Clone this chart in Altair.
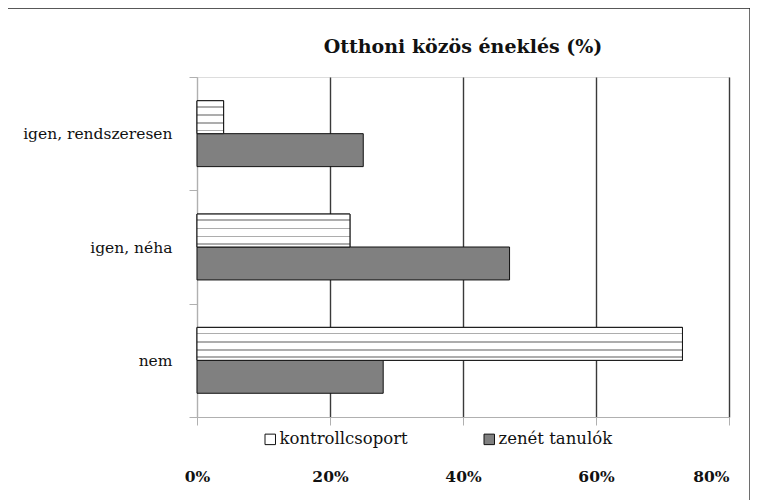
import altair as alt
import pandas as pd

categories = ["igen, rendszeresen", "igen, néha", "nem"]
series = ["kontrollcsoport", "zenét tanulók"]
kontroll = [4, 23, 73]
zenet = [25, 47, 28]
x_ticks = [0, 20, 40, 60, 80]

rows = []
for c, k, z in zip(categories, kontroll, zenet):
    rows.append({"cat": c, "series": series[0], "value": k})
    rows.append({"cat": c, "series": series[1], "value": z})
df = pd.DataFrame(rows)

FONT = "DejaVu Serif"

# horizontal dashed-stripe look for the control group
stripe = "#adadad"
stops = []
for a, b in [(0.16, 0.21), (0.41, 0.46), (0.66, 0.71), (0.88, 0.93)]:
    stops += [
        alt.GradientStop(offset=a, color="white"),
        alt.GradientStop(offset=a, color=stripe),
        alt.GradientStop(offset=b, color=stripe),
        alt.GradientStop(offset=b, color="white"),
    ]
stops = [alt.GradientStop(offset=0, color="white")] + stops + [alt.GradientStop(offset=1, color="white")]
dash_fill = alt.LinearGradient(gradient="linear", x1=0, y1=0, x2=0, y2=1, stops=stops)

y_enc = alt.Y(
    "cat:N",
    sort=categories,
    scale=alt.Scale(paddingInner=0, paddingOuter=0),
    axis=alt.Axis(
        title=None,
        domainColor="#b0b0b0",
        tickColor="#b0b0b0",
        tickSize=8,
        tickBand="extent",
        labelFont=FONT,
        labelFontSize=15.5,
        labelColor="#111",
        labelPadding=17,
    ),
)
yoff_enc = alt.YOffset(
    "series:N",
    sort=series,
    scale=alt.Scale(domain=series, paddingOuter=0.72, paddingInner=0),
)
x_enc = alt.X(
    "value:Q",
    scale=alt.Scale(domain=[0, 80]),
    axis=alt.Axis(
        title=None,
        values=x_ticks,
        labelExpr="datum.value + '%'",
        labelFlush=False,
        labelAlign={"condition": {"test": "datum.value === 80", "value": "right"}, "value": "center"},
        grid=True,
        gridColor={"condition": {"test": "datum.value === 0", "value": "#b0b0b0"}, "value": "#3a3a3a"},
        gridWidth=1.4,
        domainColor="#b0b0b0",
        tickColor="#b0b0b0",
        tickSize=8,
        labelFont=FONT,
        labelFontSize=15.5,
        labelFontWeight="bold",
        labelColor="#111",
        labelPadding=44,
    ),
)

bars = alt.Chart(df).mark_bar(stroke="#111", strokeWidth=1).encode(
    x=x_enc,
    y=y_enc,
    yOffset=yoff_enc,
    fill=alt.Fill(
        "series:N",
        sort=series,
        scale=alt.Scale(domain=series, range=["white", "#808080"]),
        legend=alt.Legend(
            title=None,
            orient="none",
            direction="horizontal",
            legendX=65,
            legendY=354,
            symbolType="square",
            symbolSize=110,
            symbolStrokeColor="#111",
            symbolStrokeWidth=1,
            labelFont=FONT,
            labelFontSize=16.5,
            labelColor="#111",
            labelOffset=1,
            columnPadding=73,
        ),
    ),
)

stripes = alt.Chart(df).transform_filter(
    alt.datum.series == series[0]
).mark_bar(stroke="#111", strokeWidth=1, fill=dash_fill).encode(
    x=alt.X("value:Q"),
    y=alt.Y("cat:N", sort=categories),
    yOffset=alt.YOffset("series:N", sort=series),
)

border = alt.Chart(alt.Data(values=[{"a": 1}])).mark_rect(
    fill=None, stroke="#222", strokeWidth=1.3
).encode(
    x=alt.value(-190), x2=alt.value(553), y=alt.value(-69), y2=alt.value(460)
)

chart = alt.layer(bars, stripes, border).properties(
    width=532,
    height=340,
    title=alt.TitleParams(
        "Otthoni közös éneklés (%)",
        font=FONT,
        fontSize=19,
        fontWeight="bold",
        color="#111",
        offset=-50,
    ),
    autosize=alt.AutoSizeParams(type="none"),
    padding={"left": 189, "top": 69, "right": 21, "bottom": 95},
).configure_view(stroke="#b0b0b0", strokeWidth=1).configure(background="white")

chart.save("out.html", embed_options={"renderer": "svg", "actions": False})
